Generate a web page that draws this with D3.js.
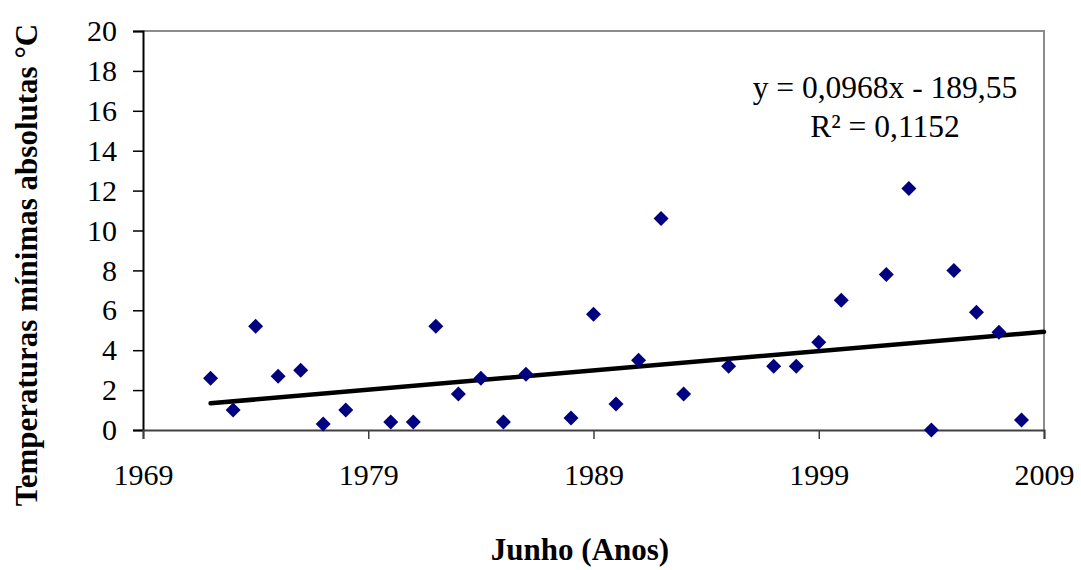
<html>
<meta charset="utf-8">
<head>
<script src="https://d3js.org/d3.v7.min.js"></script>
</head>
<body style="margin:0; background-color:#FFFFFF">
<div id="chart"></div>
<script>

var years = [1972, 1973, 1974, 1975, 1976, 1977, 1978, 1980, 1981, 1982, 1983, 1984, 1985, 1986, 1988, 1989,
             1990, 1991, 1992, 1993, 1995, 1997, 1998, 1999, 2000, 2002, 2003, 2004, 2005, 2006, 2007, 2008];
var temps = [2.6, 1.0, 5.2, 2.7, 3.0, 0.3, 1.0, 0.4, 0.4, 5.2, 1.8, 2.6, 0.4, 2.8, 0.6, 5.8,
             1.3, 3.5, 10.6, 1.8, 3.2, 3.2, 3.2, 4.4, 6.5, 7.8, 12.1, 0.0, 8.0, 5.9, 4.9, 0.5];
var xTicks = [1969, 1979, 1989, 1999, 2009];
var yTicks = [0, 2, 4, 6, 8, 10, 12, 14, 16, 18, 20];
var slope = 0.0968, intercept = -189.55;
var trendRange = [1972, 2009];

var data = years.map(function(y, i) { return {year: y, value: temps[i]}; });

var serif = "'Liberation Serif', 'Times New Roman', serif";

var margin = {top: 31, right: 37, bottom: 140, left: 143},
    width = 1081 - margin.left - margin.right,
    height = 570 - margin.top - margin.bottom;

var root = d3.select("#chart")
  .append("svg")
    .attr("width", 1081)
    .attr("height", 570)
    .style("font-family", serif);

var svg = root.append("g")
    .attr("transform", "translate(" + margin.left + "," + margin.top + ")");

var x = d3.scaleLinear()
  .domain([1969, 2009])
  .range([0, width]);

var y = d3.scaleLinear()
  .domain([0, 20])
  .range([height, 0]);

// plot area border (top/right grey)
svg.append("path")
  .attr("d", "M0,0H" + width + "V" + height)
  .attr("fill", "none")
  .attr("stroke", "#8c8c8c")
  .attr("stroke-width", 2);

// y axis
var yAxis = svg.append("g")
  .call(d3.axisLeft(y).tickValues(yTicks).tickSize(10).tickPadding(16));
yAxis.attr("font-family", serif);
yAxis.select(".domain").attr("stroke", "#000").attr("stroke-width", 2);
yAxis.selectAll(".tick line").attr("stroke", "#000").attr("stroke-width", 1.5);
yAxis.selectAll("text").style("font-size", "30px").attr("fill", "#000");

// x axis
var xAxis = svg.append("g")
  .attr("transform", "translate(0," + height + ")")
  .call(d3.axisBottom(x).tickValues(xTicks).tickFormat(d3.format("d")).tickSize(9).tickPadding(25));
xAxis.attr("font-family", serif);
xAxis.select(".domain").attr("stroke", "#404040").attr("stroke-width", 2);
xAxis.selectAll(".tick line").attr("stroke", "#404040").attr("stroke-width", 1.5);
xAxis.selectAll("text").style("font-size", "30px").attr("fill", "#000");

// trend line
svg.append("line")
  .attr("x1", x(trendRange[0]))
  .attr("y1", y(slope * trendRange[0] + intercept))
  .attr("x2", x(trendRange[1]))
  .attr("y2", y(slope * trendRange[1] + intercept))
  .attr("stroke", "#000")
  .attr("stroke-width", 4.5)
  .attr("stroke-linecap", "round");

// points
svg.selectAll("mypoint")
  .data(data)
  .enter()
  .append("path")
    .attr("d", "M0,-7.5L7.5,0L0,7.5L-7.5,0Z")
    .attr("transform", function(d) { return "translate(" + x(d.year) + "," + y(d.value) + ")"; })
    .attr("fill", "#000080");

// equation
var eq = svg.append("text")
  .attr("text-anchor", "middle")
  .style("font-size", "31.5px")
  .attr("fill", "#000");
eq.append("tspan").attr("x", 742).attr("y", 67).text("y = 0,0968x - 189,55");
eq.append("tspan").attr("x", 742).attr("y", 106).text("R² = 0,1152");

// axis titles
root.append("text")
  .attr("transform", "translate(37,265)rotate(-90)")
  .attr("text-anchor", "middle")
  .style("font-size", "31px")
  .style("font-weight", "bold")
  .text("Temperaturas mínimas absolutas °C");

root.append("text")
  .attr("x", 580)
  .attr("y", 560)
  .attr("text-anchor", "middle")
  .style("font-size", "31px")
  .style("font-weight", "bold")
  .text("Junho (Anos)");

</script>
</body>
</html>
